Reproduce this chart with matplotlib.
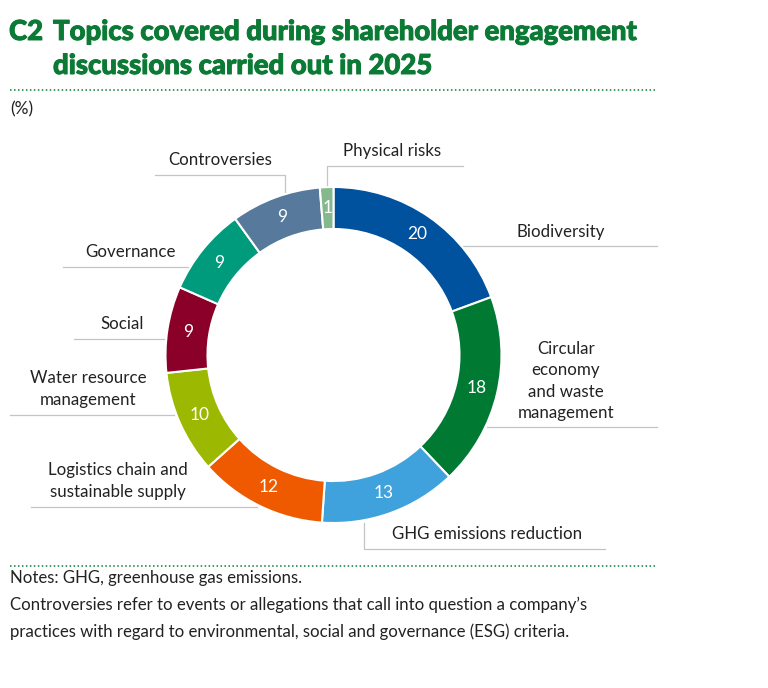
import math

import matplotlib

matplotlib.use("Agg")

import matplotlib.patheffects as pe
import matplotlib.pyplot as plt

W, H = 768, 688

topics = ["Biodiversity", "Circular economy", "GHG emissions reduction", "Logistics chain", "Water resource",
          "Social", "Governance", "Controversies", "Physical risks"]
# printed labels
values = [20, 18, 13, 12, 10, 9, 9, 9, 1]
# slice sizes as measured off the ring, they do not quite follow the rounded labels
shares = [19.4, 18.5, 13.2, 12.3, 9.9, 8.3, 8.45, 8.65, 1.3]
colors = ["#00519e", "#007a33", "#3fa2dc", "#ef5a00", "#9cb800", "#8a0029", "#009a7c", "#56799c", "#84b98e"]

title_lines = ["Topics covered during shareholder engagement", "discussions carried out in 2025"]
notes = ["Notes: GHG, greenhouse gas emissions.",
         "Controversies refer to events or allegations that call into question a company\u2019s",
         "practices with regard to environmental, social and governance (ESG) criteria."]

plt.rcParams["font.family"] = ["Lato", "DejaVu Sans"]

fig = plt.figure(figsize=(W / 100, H / 100), dpi=100)
bg = fig.add_axes([0, 0, 1, 1])
bg.set_xlim(0, W)
bg.set_ylim(H, 0)
bg.axis("off")

green = "#0b7a35"
heavy = [pe.withStroke(linewidth=0.7, foreground=green)]
bg.text(9, 32, "C2", fontsize=19.8, fontweight="black", color=green, va="center", path_effects=heavy)
bg.text(53, 32, title_lines[0], fontsize=19.8, fontweight="black", color=green, va="center", path_effects=heavy)
bg.text(53, 66, title_lines[1], fontsize=19.8, fontweight="black", color=green, va="center", path_effects=heavy)
bg.text(10, 109, "(%)", fontsize=12.5, color="#222222", va="center")

for y in [90, 566]:
    bg.plot([10, 657], [y, y], color=green, lw=1.1, ls=(0, (1, 1.6)))

for i, line in enumerate(notes):
    bg.text(10, 578 + i * 27, line, fontsize=12.1, color="#222222", va="center")

# donut centre (333.5, 355), outer radius 168
ax = fig.add_axes([(333.5 - 168) / W, 1 - (355 + 168) / H, 336 / W, 336 / H])
ax.pie(shares, colors=colors, startangle=90, counterclock=False, radius=1,
       wedgeprops={"width": 0.25, "edgecolor": "white", "linewidth": 1.5})
ax.set_xlim(-1, 1)
ax.set_ylim(-1, 1)

total = sum(shares)
angle = 90
for v, s in zip(values, shares):
    mid = angle - s / total * 180
    angle -= s / total * 360
    rad = math.radians(mid)
    ax.text(0.875 * math.cos(rad), 0.875 * math.sin(rad), str(v), color="white", fontsize=12.5,
            ha="center", va="center")

leaders = [
    ([463, 657], [246, 246]),
    ([487, 657], [427, 427]),
    ([364, 364, 605], [523, 549, 549]),
    ([31, 257], [507, 507]),
    ([10, 174], [415, 415]),
    ([74, 164], [339, 339]),
    ([63, 188], [267, 267]),
    ([155, 285, 285], [175, 175, 192]),
    ([327, 327, 463], [186, 166, 166]),
]
for xs, ys in leaders:
    bg.plot(xs, ys, color="#c4c4c4", lw=0.9)

labels = [
    (516, 232, "Biodiversity", "left"),
    (566, 381, "Circular\neconomy\nand waste\nmanagement", "center"),
    (487, 534, "GHG emissions reduction", "center"),
    (118, 481, "Logistics chain and\nsustainable supply", "center"),
    (88, 389, "Water resource\nmanagement", "center"),
    (122, 324, "Social", "center"),
    (130, 252, "Governance", "center"),
    (220, 160, "Controversies", "center"),
    (392, 151, "Physical risks", "center"),
]
for x, y, text, ha in labels:
    bg.text(x, y, text, fontsize=12.2, color="#222222", ha=ha, va="center", linespacing=1.4)

fig.savefig("out.png", dpi=100)
